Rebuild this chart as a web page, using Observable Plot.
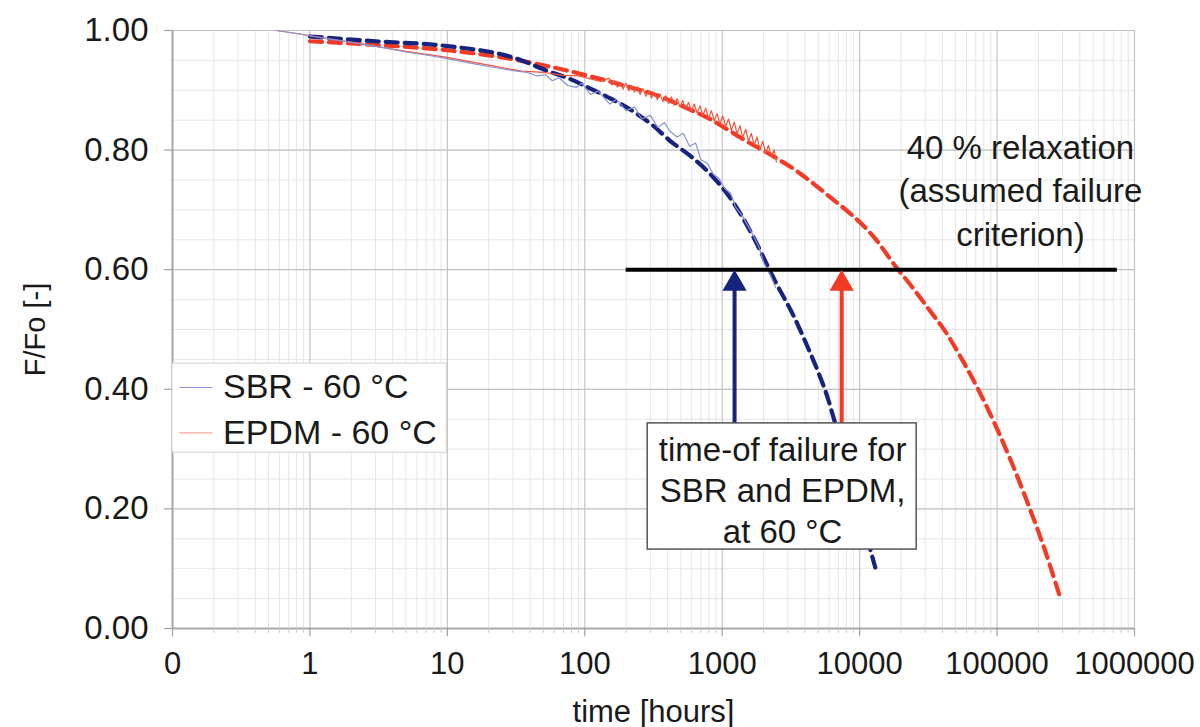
<!DOCTYPE html>
<html>
<head>
<meta charset="utf-8">
<script src="https://cdn.jsdelivr.net/npm/d3@7"></script>
<script src="https://cdn.jsdelivr.net/npm/@observablehq/plot@0.6"></script>
<style>
  html, body { margin: 0; padding: 0; background: #fff; }
  #chart { width: 1200px; height: 727px; }
</style>
</head>
<body>
<div id="chart"></div>
<script>
// ---------- data ----------
const xTickValues = [0.1, 1, 10, 100, 1000, 10000, 100000, 1000000];
const xTickLabels = ["0", "1", "10", "100", "1000", "10000", "100000", "1000000"];
const yTickValues = [0, 0.2, 0.4, 0.6, 0.8, 1.0];
const yTickLabels = ["0.00", "0.20", "0.40", "0.60", "0.80", "1.00"];

// SBR fitted (extrapolated) curve
const sbrFitT = [1, 3, 10, 30, 57, 78, 103, 132, 180, 238, 314, 415, 580, 811, 1135, 1410, 1780, 2100, 2500, 3190, 4090, 5130, 5870, 6600, 8500, 10500, 12400, 13000];
const sbrFitF = [0.990, 0.982, 0.974, 0.955, 0.930, 0.919, 0.906, 0.894, 0.878, 0.861, 0.841, 0.816, 0.791, 0.761, 0.721, 0.687, 0.644, 0.610, 0.575, 0.530, 0.476, 0.422, 0.385, 0.345, 0.255, 0.180, 0.119, 0.102];

// EPDM fitted (extrapolated) curve
const epdmFitT = [1, 3, 10, 30, 57, 78, 103, 135, 180, 238, 314, 415, 580, 800, 1100, 1500, 2000, 2500, 3240, 4330, 6040, 8040, 10400, 13300, 17400, 24300, 32300, 42800, 53700, 72100, 97700, 129000, 172000, 214000, 285000];
const epdmFitF = [0.982, 0.976, 0.967, 0.952, 0.939, 0.932, 0.925, 0.918, 0.910, 0.902, 0.894, 0.883, 0.868, 0.853, 0.834, 0.815, 0.799, 0.786, 0.770, 0.749, 0.722, 0.699, 0.676, 0.649, 0.612, 0.570, 0.532, 0.494, 0.456, 0.402, 0.339, 0.275, 0.202, 0.143, 0.055];

// SBR measured (noisy)
const sbrMeasT = [0.57, 0.8, 1.2, 2.3, 3.5, 5, 7, 10, 15, 21, 30, 38, 45, 52, 58, 65, 75, 87, 95, 110, 125, 152, 170, 200, 230, 260, 300, 340, 380, 415, 470, 520, 580, 640, 700, 780, 860, 950, 1050, 1150, 1250, 1400, 1550, 1700, 1850, 2000, 2150, 2300, 2450];
const sbrMeasF = [1.000, 0.995, 0.988, 0.978, 0.971, 0.964, 0.959, 0.953, 0.945, 0.939, 0.933, 0.930, 0.924, 0.926, 0.916, 0.921, 0.908, 0.905, 0.912, 0.893, 0.899, 0.877, 0.885, 0.866, 0.872, 0.852, 0.858, 0.838, 0.846, 0.832, 0.822, 0.828, 0.806, 0.812, 0.784, 0.778, 0.760, 0.752, 0.735, 0.728, 0.705, 0.690, 0.672, 0.655, 0.638, 0.612, 0.600, 0.585, 0.570];

// EPDM measured (noisy)
const epdmMeasT = [0.57, 0.8, 1.2, 2.3, 5, 10, 20, 35, 50, 70, 90, 110, 130,
  150, 157, 165, 173, 181, 190, 199, 209, 219, 230, 241, 253, 265, 278, 292, 306, 321, 337, 353, 370,
  388, 407, 427, 448, 470, 493, 517, 542, 569, 597, 626, 657, 689, 723, 758, 795, 834, 875, 918, 963,
  1010, 1060, 1112, 1166, 1223, 1283, 1346, 1412, 1481, 1553, 1629, 1709, 1793, 1880, 1972, 2069, 2170, 2276, 2388, 2480];
const epdmMeasF = [1.000, 0.995, 0.988, 0.978, 0.965, 0.955, 0.942, 0.932, 0.930, 0.925, 0.924, 0.919, 0.915,
  0.920, 0.909, 0.916, 0.905, 0.913, 0.902, 0.912, 0.899, 0.908, 0.897, 0.906, 0.893, 0.903, 0.890, 0.900, 0.887, 0.897, 0.884, 0.894, 0.881,
  0.891, 0.878, 0.889, 0.875, 0.886, 0.872, 0.883, 0.869, 0.880, 0.866, 0.877, 0.862, 0.874, 0.858, 0.870, 0.853, 0.866, 0.849, 0.861, 0.844,
  0.857, 0.839, 0.852, 0.833, 0.847, 0.827, 0.841, 0.821, 0.835, 0.815, 0.828, 0.808, 0.822, 0.801, 0.815, 0.795, 0.808, 0.789, 0.800, 0.780];

// failure criterion and failure times
const criterion = 0.6;
const criterionFrom = 200, criterionTo = 750000;
const failureT = [1230, 7400];           // SBR, EPDM
const seriesNames = ["SBR - 60 °C", "EPDM - 60 °C"];

// ---------- helpers ----------
const zip = (t, f) => t.map((d, i) => ({t: d, f: f[i]}));
const sbrFit = zip(sbrFitT, sbrFitF);
const epdmFit = zip(epdmFitT, epdmFitF);
const sbrMeas = zip(sbrMeasT, sbrMeasF);
const epdmMeas = zip(epdmMeasT, epdmMeasF);

const decades = xTickValues.slice(0, -1);
const xMinor = decades.flatMap(d => d3.range(2, 10).map(k => d * k));
const yMinor = d3.range(0, 1.0001, 0.05);

const blue = "#16237f", red = "#f23a24";
const blueMeas = "#8a91d2", redMeas = "#f0553d";
const ticksOut = 0.1 * Math.pow(10, -8 / 137.5);
const ink = "#1a1a1a";

const plot = Plot.plot({
  width: 1200,
  height: 727,
  marginLeft: 172,
  marginRight: 66,
  marginTop: 30,
  marginBottom: 99,
  style: {fontFamily: "'Liberation Sans', Arial, sans-serif", fontSize: "31px", color: ink, background: "white", overflow: "visible"},
  x: {type: "log", domain: [0.1, 1000000], axis: null},
  y: {domain: [0, 1], axis: null},
  marks: [
    // grid
    Plot.ruleX(xMinor, {stroke: "#e6e6e6", strokeWidth: 1}),
    Plot.ruleY(yMinor, {stroke: "#e6e6e6", strokeWidth: 1}),
    Plot.ruleX(xTickValues, {stroke: "#c4c4c4", strokeWidth: 1.2}),
    Plot.ruleY(yTickValues, {stroke: "#c4c4c4", strokeWidth: 1.2}),
    // axis lines and tick marks
    Plot.ruleX([0.1], {stroke: "#a8a8a8", strokeWidth: 2}),
    Plot.ruleY([0], {stroke: "#a8a8a8", strokeWidth: 2}),
    Plot.ruleX(xTickValues, {y1: 0, y2: -0.014, stroke: "#a0a0a0", strokeWidth: 1.2}),
    Plot.ruleX(xMinor, {y1: 0, y2: -0.008, stroke: "#c8c8c8", strokeWidth: 1}),
    Plot.ruleY(yTickValues, {x1: ticksOut, x2: 0.1, stroke: "#a0a0a0", strokeWidth: 1.2}),
    // tick labels
    Plot.text(xTickValues, {x: d => d, y: 0, dy: 36, text: (d, i) => xTickLabels[i], fontSize: 31, fill: ink, lineAnchor: "middle"}),
    Plot.text(yTickValues, {x: 0.1, y: d => d, dx: -24, text: (d, i) => yTickLabels[i], textAnchor: "end", fontSize: 33, fill: ink}),
    // fitted curves
    Plot.line(epdmFit, {x: "t", y: "f", stroke: red, strokeWidth: 4.2, strokeDasharray: "12,7", curve: "monotone-x"}),
    Plot.line(sbrFit, {x: "t", y: "f", stroke: blue, strokeWidth: 4.2, strokeDasharray: "12,7", curve: "monotone-x"}),
    // measured curves
    Plot.line(epdmMeas, {x: "t", y: "f", stroke: redMeas, strokeWidth: 1.2}),
    Plot.line(sbrMeas, {x: "t", y: "f", stroke: blueMeas, strokeWidth: 1.2}),
    // failure criterion
    Plot.ruleY([criterion], {x1: criterionFrom, x2: criterionTo, stroke: "black", strokeWidth: 4}),
    // arrows
    Plot.ruleX(failureT, {y1: 0.34, y2: 0.575, stroke: [blue, red], strokeWidth: 4}),
    Plot.dot(failureT, {x: d => d, y: criterion, symbol: "triangle", r: 9, fill: [blue, red], stroke: null, dy: 14}),
    // failure text box
    Plot.rect([0], {x1: 287, x2: 26000, y1: 0.132, y2: 0.343, fill: "white", stroke: "#555", strokeWidth: 1.5}),
    Plot.text(["time-of failure for\nSBR and EPDM,\nat 60 °C"], {x: 2750, y: 0.234, fontSize: 33, lineHeight: 1.24, textAnchor: "middle", fill: ink}),
    // criterion annotation
    Plot.text(["40 % relaxation\n(assumed failure\ncriterion)"], {x: 148000, y: 0.736, fontSize: 33, lineHeight: 1.32, textAnchor: "middle", fill: ink}),
    // legend
    Plot.rect([0], {x1: 0.1, x2: 9.9, y1: 0.294, y2: 0.443, fill: "white", stroke: "#d0d0d0", strokeWidth: 1}),
    Plot.ruleY([0.403, 0.327], {x1: 0.113, x2: 0.197, stroke: [blueMeas, "#f4a49a"], strokeWidth: 1.2}),
    Plot.text(seriesNames, {x: 0.233, y: [0.403, 0.327], textAnchor: "start", fontSize: 34, fill: ink}),
    // axis titles
    Plot.text(["time [hours]"], {frameAnchor: "bottom", dy: 84, lineAnchor: "middle", textAnchor: "middle", fontSize: 31, fill: ink}),
    Plot.text(["F/Fo [-]"], {frameAnchor: "left", dx: -137, rotate: -90, textAnchor: "middle", lineAnchor: "middle", fontSize: 29, fill: ink})
  ]
});
document.getElementById("chart").appendChild(plot);
</script>
</body>
</html>
